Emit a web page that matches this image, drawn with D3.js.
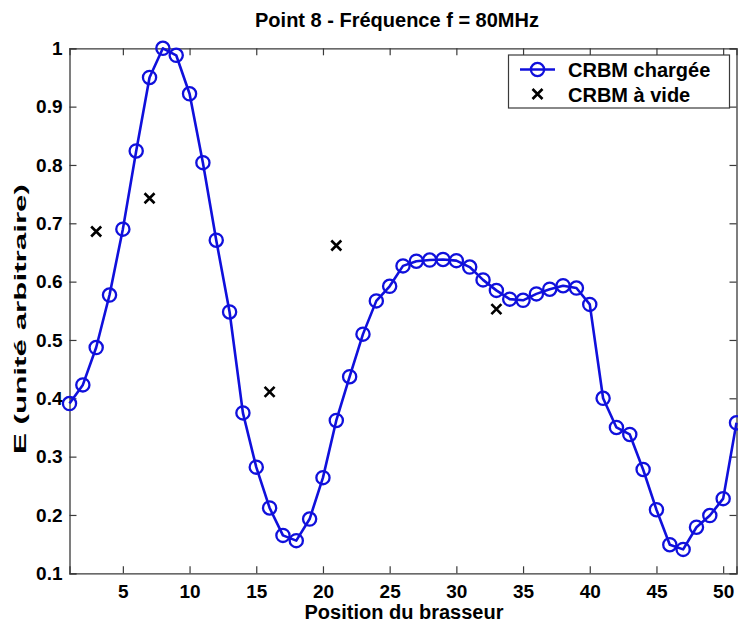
<!DOCTYPE html>
<html>
<head>
<meta charset="utf-8">
<script src="https://cdn.jsdelivr.net/npm/d3@7"></script>
<style>
  html, body { margin: 0; padding: 0; background: #ffffff; }
  svg { display: block; }
  text { font-family: "Liberation Sans", Arial, Helvetica, sans-serif; font-weight: bold; fill: #000; }
</style>
</head>
<body>
<script>
// ---- data ----
const positions = [1,2,3,4,5,6,7,8,9,10,11,12,13,14,15,16,17,18,19,20,21,22,23,24,25,26,27,28,29,30,31,32,33,34,35,36,37,38,39,40,41,42,43,44,45,46,47,48,49,50,51];
const chargee = [0.391,0.423,0.487,0.577,0.690,0.824,0.950,1.000,0.988,0.922,0.804,0.671,0.548,0.375,0.282,0.212,0.165,0.156,0.193,0.264,0.362,0.437,0.510,0.567,0.592,0.627,0.635,0.637,0.638,0.636,0.625,0.603,0.585,0.570,0.568,0.579,0.587,0.593,0.589,0.561,0.400,0.350,0.338,0.278,0.209,0.149,0.141,0.179,0.199,0.228,0.358];
const videPositions = [3,7,16,21,33];
const vide = [0.686,0.743,0.411,0.662,0.553];
const xTicks = [5,10,15,20,25,30,35,40,45,50];
const yTicks = [0.1,0.2,0.3,0.4,0.5,0.6,0.7,0.8,0.9,1];
const yTickLabels = ["0.1","0.2","0.3","0.4","0.5","0.6","0.7","0.8","0.9","1"];
const seriesNames = ["CRBM chargée", "CRBM à vide"];
const titleText = "Point 8 - Fréquence f = 80MHz";
const xLabel = "Position du brasseur";
const yLabel = "E (unité arbitraire)";

// ---- layout ----
const W = 738, H = 623;
const mLeft = 69.5, mRight = 736.5, mTop = 48.3, mBottom = 573.3;
const blue = "#1010dc";
const axisCol = "#3a3a3a";

const svg = d3.select("body").append("svg").attr("width", W).attr("height", H);
svg.append("rect").attr("width", W).attr("height", H).attr("fill", "#fff");

const x = d3.scaleLinear().domain([1, 51]).range([mLeft, mRight]);
const y = d3.scaleLinear().domain([0.1, 1]).range([mBottom, mTop]);

// axes (ticks inward on all sides)
const tickLen = 7;
const axB = d3.axisBottom(x).tickValues(xTicks).tickSize(-tickLen).tickPadding(11).tickFormat(d3.format("d"));
const axT = d3.axisTop(x).tickValues(xTicks).tickSize(-tickLen).tickFormat("");
const axL = d3.axisLeft(y).tickValues(yTicks).tickSize(-tickLen).tickPadding(7).tickFormat((d, i) => yTickLabels[i]);
const axR = d3.axisRight(y).tickValues(yTicks).tickSize(-tickLen).tickFormat("");

function styleAxis(g) {
  g.selectAll("path.domain").attr("stroke", axisCol).attr("stroke-width", 1.3);
  g.selectAll(".tick line").attr("stroke", axisCol).attr("stroke-width", 1.2);
  g.selectAll(".tick text").attr("font-size", 19).attr("font-family", "'Liberation Sans', Arial, sans-serif").attr("font-weight", "bold").attr("fill", "#000");
}
svg.append("g").attr("transform", `translate(0,${mBottom})`).call(axB).call(styleAxis)
   .selectAll(".tick text").attr("dy", "0.72em");
svg.append("g").attr("transform", `translate(0,${mTop})`).call(axT).call(styleAxis);
svg.append("g").attr("transform", `translate(${mLeft},0)`).call(axL).call(styleAxis);
svg.append("g").attr("transform", `translate(${mRight},0)`).call(axR).call(styleAxis);

// line series
const pts = positions.map((p, i) => [p, chargee[i]]);
svg.append("path")
  .datum(pts)
  .attr("fill", "none")
  .attr("stroke", blue)
  .attr("stroke-width", 2.6)
  .attr("stroke-linejoin", "round")
  .attr("d", d3.line().x(d => x(d[0])).y(d => y(d[1])));

svg.append("g").selectAll("circle")
  .data(pts).join("circle")
  .attr("cx", d => x(d[0])).attr("cy", d => y(d[1]))
  .attr("r", 6.6)
  .attr("fill", "none")
  .attr("stroke", blue)
  .attr("stroke-width", 2.3);

// crosses
const cs = 5;
const crossG = svg.append("g");
videPositions.forEach((p, i) => {
  const cx = x(p), cy = y(vide[i]);
  crossG.append("path")
    .attr("d", `M${cx - cs},${cy - cs}L${cx + cs},${cy + cs}M${cx - cs},${cy + cs}L${cx + cs},${cy - cs}`)
    .attr("stroke", "#000").attr("stroke-width", 2.6).attr("fill", "none");
});

// title & labels
svg.append("text").attr("x", 397).attr("y", 26.5).attr("text-anchor", "middle")
  .attr("font-size", 20).text(titleText);
svg.append("text").attr("x", 404).attr("y", 619).attr("text-anchor", "middle")
  .attr("font-size", 20).text(xLabel);
svg.append("text")
  .attr("transform", "translate(26,319) rotate(-90)")
  .attr("text-anchor", "middle")
  .attr("font-size", 17)
  .attr("textLength", 270)
  .attr("lengthAdjust", "spacingAndGlyphs")
  .text(yLabel);

// legend
const lg = svg.append("g");
lg.append("rect").attr("x", 508.5).attr("y", 55).attr("width", 221).attr("height", 53)
  .attr("fill", "#fff").attr("stroke", axisCol).attr("stroke-width", 1.2);
const r1 = 69.5, r2 = 94;
lg.append("line").attr("x1", 520).attr("x2", 555).attr("y1", r1).attr("y2", r1)
  .attr("stroke", blue).attr("stroke-width", 2.6);
lg.append("circle").attr("cx", 537.5).attr("cy", r1).attr("r", 6.6)
  .attr("fill", "none").attr("stroke", blue).attr("stroke-width", 2.3);
lg.append("path")
  .attr("d", `M${537.5 - cs},${r2 - cs}L${537.5 + cs},${r2 + cs}M${537.5 - cs},${r2 + cs}L${537.5 + cs},${r2 - cs}`)
  .attr("stroke", "#000").attr("stroke-width", 2.6);
lg.append("text").attr("x", 568).attr("y", r1 + 7).attr("font-size", 20).text(seriesNames[0]);
lg.append("text").attr("x", 568).attr("y", r2 + 7.5).attr("font-size", 20).text(seriesNames[1]);
</script>
</body>
</html>
